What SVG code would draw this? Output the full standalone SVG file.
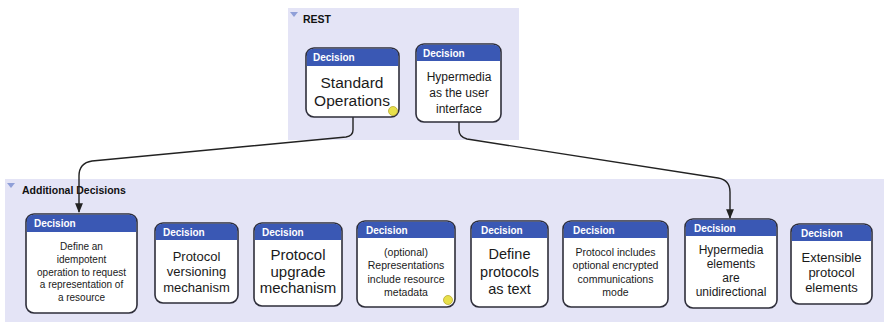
<svg xmlns="http://www.w3.org/2000/svg" width="889" height="328" viewBox="0 0 889 328">
  <style>
    .panel { fill: #e4e4f6; }
    .ptitle { font-family: "Liberation Sans", Arial, sans-serif; font-size: 10.5px; font-weight: bold; fill: #111; }
    .tri { fill: #8f9fd8; }
    .body { fill: #ffffff; stroke: #2e2e3a; stroke-width: 1.6; }
    .head { fill: #3a58b4; }
    .hl { font-family: "Liberation Sans", Arial, sans-serif; font-size: 10px; font-weight: bold; fill: #ffffff; }
    .t { font-family: "Liberation Sans", Arial, sans-serif; fill: #1a1a1a; text-anchor: middle; }
    .dot { fill: #e8e04a; stroke: #b8a830; stroke-width: 0.8; }
    .conn { fill: none; stroke: #222; stroke-width: 1.4; }
  </style>
  <defs>
    <marker id="arrow" viewBox="0 0 10 10" refX="9" refY="5" markerWidth="7" markerHeight="7" orient="auto">
      <path d="M0,1 L10,5 L0,9 z" fill="#222"/>
    </marker>
  </defs>

  <!-- panels -->
  <g id="panel-rest">
    <rect class="panel" x="288" y="8" width="231" height="132"/>
    <path class="tri" d="M290,12 L298,12 L294,17 z"/>
    <text class="ptitle" x="303" y="23">REST</text>
  </g>
  <g id="panel-additional">
    <rect class="panel" x="5" y="179" width="879" height="143"/>
    <path class="tri" d="M7,183 L15,183 L11,188 z"/>
    <text class="ptitle" x="22" y="194">Additional Decisions</text>
  </g>

  <!-- connectors -->
  <g id="connectors">
    <path class="conn" d="M353,117 L353,130 Q353,136 346,137 L92,161 Q79,163 79,176 L79,212" marker-end="url(#arrow)"/>
    <path class="conn" d="M459,122 L459,130 Q459,137 467,139 L718,178 Q730,180 730,192 L730,218" marker-end="url(#arrow)"/>
  </g>

  <!-- REST decisions -->
  <g id="standard-operations">
    <rect class="body" x="306" y="48" width="93" height="69" rx="8"/>
    <path class="head" d="M306.8,66 L306.8,56 Q306.8,48.8 314,48.8 L391,48.8 Q398.2,48.8 398.2,56 L398.2,66 z"/>
    <text class="hl" x="313" y="61">Decision</text>
    <text class="t" x="352" y="88" font-size="15.5">Standard</text>
    <text class="t" x="352" y="106" font-size="15.5">Operations</text>
    <circle class="dot" cx="393" cy="111" r="4.5"/>
  </g>
  <g id="hypermedia-ui">
    <rect class="body" x="416" y="44" width="85" height="78" rx="8"/>
    <path class="head" d="M416.8,61 L416.8,52 Q416.8,44.8 424,44.8 L493,44.8 Q500.2,44.8 500.2,52 L500.2,61 z"/>
    <text class="hl" x="423" y="57">Decision</text>
    <text class="t" x="459" y="81" font-size="12">Hypermedia</text>
    <text class="t" x="459" y="97" font-size="12">as the user</text>
    <text class="t" x="459" y="113" font-size="12">interface</text>
  </g>

  <!-- Additional decisions -->
  <g id="idempotent-operation">
    <rect class="body" x="26" y="214" width="111" height="99" rx="8"/>
    <path class="head" d="M26.8,232 L26.8,222 Q26.8,214.8 34,214.8 L129,214.8 Q136.2,214.8 136.2,222 L136.2,232 z"/>
    <text class="hl" x="34" y="227">Decision</text>
    <text class="t" x="81.5" y="250" font-size="10">Define an</text>
    <text class="t" x="81.5" y="263" font-size="10">idempotent</text>
    <text class="t" x="81.5" y="276" font-size="10">operation to request</text>
    <text class="t" x="81.5" y="288" font-size="10">a representation of</text>
    <text class="t" x="81.5" y="301" font-size="10">a resource</text>
  </g>
  <g id="protocol-versioning">
    <rect class="body" x="155" y="223" width="83" height="80" rx="8"/>
    <path class="head" d="M155.8,240 L155.8,231 Q155.8,223.8 163,223.8 L230,223.8 Q237.2,223.8 237.2,231 L237.2,240 z"/>
    <text class="hl" x="163" y="236">Decision</text>
    <text class="t" x="196.5" y="261" font-size="13">Protocol</text>
    <text class="t" x="196.5" y="276" font-size="13">versioning</text>
    <text class="t" x="196.5" y="292" font-size="13">mechanism</text>
  </g>
  <g id="protocol-upgrade">
    <rect class="body" x="254" y="223" width="88" height="83" rx="8"/>
    <path class="head" d="M254.8,240 L254.8,231 Q254.8,223.8 262,223.8 L334,223.8 Q341.2,223.8 341.2,231 L341.2,240 z"/>
    <text class="hl" x="262" y="236">Decision</text>
    <text class="t" x="298" y="260" font-size="15">Protocol</text>
    <text class="t" x="298" y="277" font-size="15">upgrade</text>
    <text class="t" x="298" y="293" font-size="15">mechanism</text>
  </g>
  <g id="resource-metadata">
    <rect class="body" x="357" y="221" width="98" height="86" rx="8"/>
    <path class="head" d="M357.8,238 L357.8,229 Q357.8,221.8 365,221.8 L447,221.8 Q454.2,221.8 454.2,229 L454.2,238 z"/>
    <text class="hl" x="366" y="234">Decision</text>
    <text class="t" x="406" y="256" font-size="10.5">(optional)</text>
    <text class="t" x="406" y="269" font-size="10.5">Representations</text>
    <text class="t" x="406" y="283" font-size="10.5">include resource</text>
    <text class="t" x="406" y="296" font-size="10.5">metadata</text>
    <circle class="dot" cx="448" cy="300" r="4.5"/>
  </g>
  <g id="protocols-as-text">
    <rect class="body" x="471" y="221" width="77" height="86" rx="8"/>
    <path class="head" d="M471.8,238 L471.8,229 Q471.8,221.8 479,221.8 L540,221.8 Q547.2,221.8 547.2,229 L547.2,238 z"/>
    <text class="hl" x="481" y="234">Decision</text>
    <text class="t" x="509.5" y="259" font-size="14.5">Define</text>
    <text class="t" x="509.5" y="277" font-size="14.5">protocols</text>
    <text class="t" x="509.5" y="294" font-size="14.5">as text</text>
  </g>
  <g id="encrypted-mode">
    <rect class="body" x="563" y="221" width="105" height="86" rx="8"/>
    <path class="head" d="M563.8,238 L563.8,229 Q563.8,221.8 571,221.8 L660,221.8 Q667.2,221.8 667.2,229 L667.2,238 z"/>
    <text class="hl" x="573" y="234">Decision</text>
    <text class="t" x="615.5" y="256" font-size="10.5">Protocol includes</text>
    <text class="t" x="615.5" y="269" font-size="10.5">optional encrypted</text>
    <text class="t" x="615.5" y="283" font-size="10.5">communications</text>
    <text class="t" x="615.5" y="296" font-size="10.5">mode</text>
  </g>
  <g id="unidirectional-hypermedia">
    <rect class="body" x="685" y="219" width="92" height="89" rx="8"/>
    <path class="head" d="M685.8,236 L685.8,227 Q685.8,219.8 693,219.8 L769,219.8 Q776.2,219.8 776.2,227 L776.2,236 z"/>
    <text class="hl" x="694" y="232">Decision</text>
    <text class="t" x="731" y="254" font-size="12">Hypermedia</text>
    <text class="t" x="731" y="268" font-size="12">elements</text>
    <text class="t" x="731" y="282" font-size="12">are</text>
    <text class="t" x="731" y="296" font-size="12">unidirectional</text>
  </g>
  <g id="extensible-elements">
    <rect class="body" x="791" y="224" width="81" height="80" rx="8"/>
    <path class="head" d="M791.8,241 L791.8,232 Q791.8,224.8 799,224.8 L864,224.8 Q871.2,224.8 871.2,232 L871.2,241 z"/>
    <text class="hl" x="801" y="237">Decision</text>
    <text class="t" x="831.5" y="262" font-size="13">Extensible</text>
    <text class="t" x="831.5" y="277" font-size="13">protocol</text>
    <text class="t" x="831.5" y="292" font-size="13">elements</text>
  </g>
</svg>
